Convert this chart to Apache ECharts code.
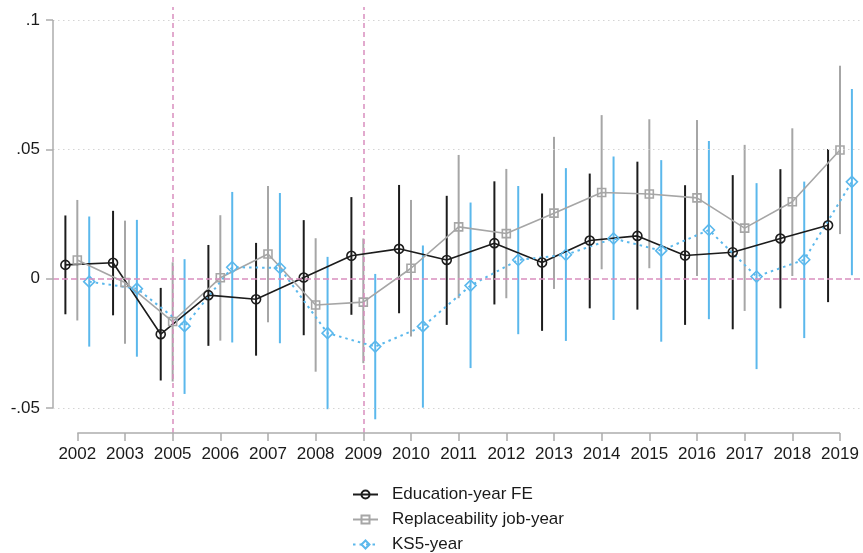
<!DOCTYPE html>
<html>
<head>
<meta charset="utf-8">
<script src="https://cdn.jsdelivr.net/npm/echarts@6/dist/echarts.min.js"></script>
<style>html,body{margin:0;padding:0;background:#fff}#c{width:863px;height:553px}</style>
</head>
<body>
<div id="c"></div>
<script>
// ---- data ----
const years = ['2002','2003','2005','2006','2007','2008','2009','2010','2011','2012','2013','2014','2015','2016','2017','2018','2019'];
const edu   = [0.0053, 0.0061, -0.0215, -0.0064, -0.0080, 0.0004, 0.0088, 0.0115, 0.0072, 0.0137, 0.0062, 0.0147, 0.0165, 0.0089, 0.0102, 0.0155, 0.0206];
const eduLo = [-0.0138, -0.0142, -0.0394, -0.0260, -0.0298, -0.0219, -0.0140, -0.0134, -0.0179, -0.0100, -0.0202, -0.0115, -0.0120, -0.0179, -0.0196, -0.0115, -0.0091];
const eduHi = [0.0244, 0.0262, -0.0036, 0.0130, 0.0138, 0.0226, 0.0315, 0.0362, 0.0320, 0.0376, 0.0329, 0.0406, 0.0452, 0.0361, 0.0400, 0.0423, 0.0501];
const rep   = [0.0072, -0.0015, -0.0166, 0.0003, 0.0095, -0.0102, -0.0091, 0.0040, 0.0200, 0.0174, 0.0253, 0.0333, 0.0327, 0.0312, 0.0195, 0.0297, 0.0497];
const repLo = [-0.0162, -0.0252, -0.0398, -0.0240, -0.0169, -0.0360, -0.0327, -0.0224, -0.0076, -0.0076, -0.0040, 0.0036, 0.0040, 0.0010, -0.0125, 0.0010, 0.0172];
const repHi = [0.0304, 0.0224, 0.0063, 0.0245, 0.0358, 0.0156, 0.0155, 0.0304, 0.0478, 0.0424, 0.0548, 0.0632, 0.0616, 0.0613, 0.0517, 0.0581, 0.0823];
const ks5   = [-0.0012, -0.0039, -0.0184, 0.0044, 0.0041, -0.0211, -0.0263, -0.0185, -0.0027, 0.0072, 0.0092, 0.0155, 0.0108, 0.0188, 0.0008, 0.0073, 0.0374];
const ks5Lo = [-0.0263, -0.0302, -0.0446, -0.0247, -0.0250, -0.0505, -0.0544, -0.0499, -0.0346, -0.0215, -0.0241, -0.0160, -0.0244, -0.0157, -0.0350, -0.0230, 0.0013];
const ks5Hi = [0.0240, 0.0227, 0.0075, 0.0335, 0.0331, 0.0084, 0.0018, 0.0128, 0.0294, 0.0358, 0.0427, 0.0472, 0.0458, 0.0532, 0.0369, 0.0375, 0.0733];
const yTicks = [-0.05, 0, 0.05, 0.1];
const yTickLabels = ['-.05', '0', '.05', '.1'];
const refYears = ['2005', '2009'];
const seriesNames = ['Education-year FE', 'Replaceability job-year', 'KS5-year'];

// ---- layout / style ----
const FONT = '"Liberation Sans", Arial, sans-serif';
const xMin = 0.49, xMax = 17.42, yMin = -0.0597, yMax = 0.105;
const dodge = 0.25;
const cBlack = '#1c1c1c', cGray = '#a6a6a6', cBlue = '#5bb8ec', cPink = '#d98fbf', cAxis = '#acacac';
const idx = years.map((_, i) => i + 1);

function pts(vals, off) { return vals.map((v, i) => [idx[i] + off, v]); }
function ci(lo, hi, off) { return lo.map((l, i) => [idx[i] + off, l, hi[i]]); }
function ciSeries(name, data, color) {
  return {
    type: 'custom', name: name, z: 3, silent: true,
    data: data,
    encode: { x: 0, y: [1, 2] },
    renderItem: function (params, api) {
      const a = api.coord([api.value(0), api.value(1)]);
      const b = api.coord([api.value(0), api.value(2)]);
      return { type: 'line', shape: { x1: a[0], y1: a[1], x2: b[0], y2: b[1] }, style: { stroke: color, lineWidth: 2 } };
    }
  };
}
function lineSeries(name, data, color, symbol, size, lineType, width) {
  return {
    type: 'line', name: name, z: 4, data: data,
    symbol: symbol, symbolSize: size,
    lineStyle: { color: color, width: width, type: lineType },
    itemStyle: { color: 'rgba(255,255,255,0)', borderColor: color, borderWidth: 1.6 },
    emphasis: { disabled: true }
  };
}

const gridLines = yTicks.filter(v => v !== 0).map(v => ({ yAxis: v }));
const refLines = [
  ...refYears.map(y => ({ xAxis: idx[years.indexOf(y)], lineStyle: { color: cPink, width: 1.5, type: [5, 4] } })),
  { yAxis: 0, lineStyle: { color: cPink, width: 1.5, type: [6, 3] } }
];

const option = {
  animation: false,
  backgroundColor: '#fff',
  grid: { left: 53, right: 3, top: 7, bottom: 120, containLabel: false },
  xAxis: {
    type: 'value', min: xMin, max: xMax,
    axisLine: { show: false, onZero: false },
    splitLine: { show: false },
    axisTick: { show: true, inside: false, customValues: idx, length: 8, lineStyle: { color: cAxis, width: 1.5 } },
    axisLabel: {
      customValues: idx, margin: 13, color: '#1a1a1a', fontSize: 17, fontFamily: FONT,
      formatter: v => years[Math.round(v) - 1]
    }
  },
  yAxis: {
    type: 'value', min: yMin, max: yMax,
    axisLine: { show: false, onZero: false },
    splitLine: { show: false },
    axisTick: { show: true, inside: false, customValues: yTicks, length: 7, lineStyle: { color: cAxis, width: 1.5 } },
    axisLabel: {
      customValues: yTicks, margin: 13, color: '#1a1a1a', fontSize: 17, fontFamily: FONT,
      formatter: v => { const k = yTicks.findIndex(t => Math.abs(t - v) < 1e-9); return k >= 0 ? yTickLabels[k] : ''; }
    }
  },
  legend: {
    orient: 'vertical', left: 352, top: 486, padding: 0,
    itemWidth: 25, itemHeight: 10, itemGap: 8,
    data: seriesNames,
    textStyle: { fontSize: 17, fontFamily: FONT, color: '#1a1a1a', lineHeight: 17, padding: [0, 0, 0, 9] }
  },
  series: [
    {
      type: 'line', name: 'frame', data: [], z: 1, silent: true,
      markLine: {
        silent: true, symbol: 'none', animation: false, label: { show: false },
        lineStyle: { color: '#d4d4d4', width: 1, type: [1.5, 3.5] },
        data: [
          ...gridLines,
          ...refLines,
          [{ coord: [xMin, yTicks[0]], lineStyle: { color: cAxis, width: 1.5, type: 'solid' } }, { coord: [xMin, yTicks[yTicks.length - 1]] }],
          [{ coord: [idx[0], yMin], lineStyle: { color: cAxis, width: 1.5, type: 'solid' } }, { coord: [idx[idx.length - 1], yMin] }]
        ]
      }
    },
    ciSeries('ci_edu', ci(eduLo, eduHi, -dodge), cBlack),
    ciSeries('ci_rep', ci(repLo, repHi, 0), cGray),
    ciSeries('ci_ks5', ci(ks5Lo, ks5Hi, dodge), cBlue),
    lineSeries(seriesNames[0], pts(edu, -dodge), cBlack, 'circle', 9, 'solid', 1.6),
    lineSeries(seriesNames[1], pts(rep, 0), cGray, 'rect', 8, 'solid', 1.6),
    lineSeries(seriesNames[2], pts(ks5, dodge), cBlue, 'diamond', [11, 11], [2.5, 4], 2)
  ]
};
const chart = echarts.init(document.getElementById('c'), null, { renderer: 'canvas' });
chart.setOption(option);
</script>
</body>
</html>
